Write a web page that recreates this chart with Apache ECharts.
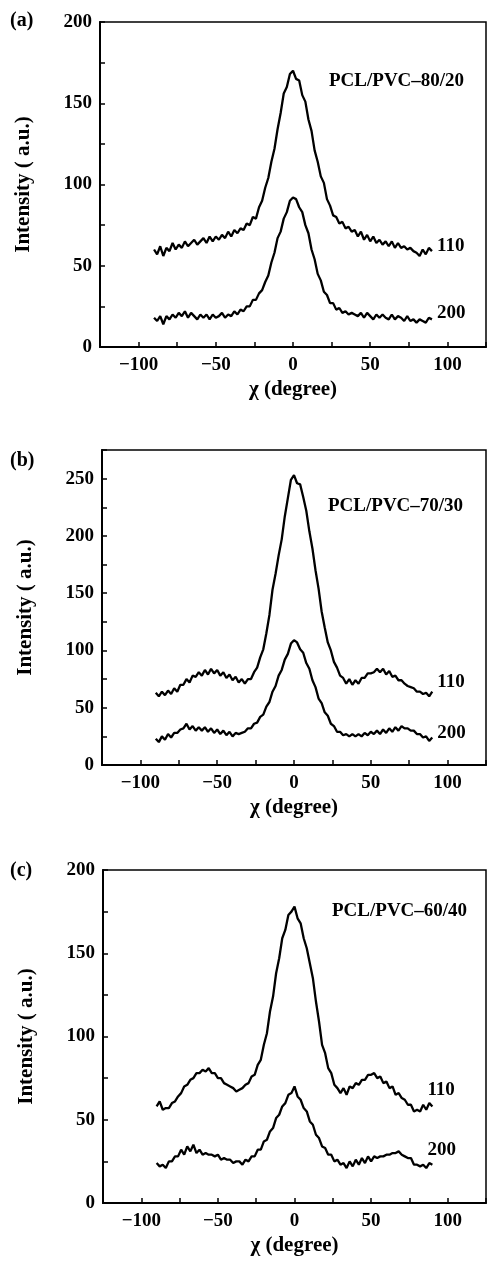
<!DOCTYPE html>
<html lang="en">
  <head>
    <meta charset="UTF-8" />
    <title>PCL/PVC azimuthal scans</title>
    <script src="https://cdn.jsdelivr.net/npm/echarts@6.0.0/dist/echarts.min.js"></script>
    <style>
      body { margin: 0; background: #fff; }
    </style>
  </head>
  <body>
    <div id="main" style="width: 489px; height: 1268px"></div>
    <script type="text/javascript">
      // azimuthal angle, degrees
      const chi = [-90, -88, -86, -84, -82, -80, -78, -76, -74, -72, -70, -68, -66, -64, -62, -60,
        -58, -56, -54, -52, -50, -48, -46, -44, -42, -40, -38, -36, -34, -32, -30, -28, -26, -24,
        -22, -20, -18, -16, -14, -12, -10, -8, -6, -4, -2, 0, 2, 4, 6, 8, 10, 12, 14, 16, 18, 20,
        22, 24, 26, 28, 30, 32, 34, 36, 38, 40, 42, 44, 46, 48, 50, 52, 54, 56, 58, 60, 62, 64,
        66, 68, 70, 72, 74, 76, 78, 80, 82, 84, 86, 88, 90];

      // (a) PCL/PVC-80/20
      const a110 = [60, 57, 62, 56, 61, 59, 64, 60, 63, 61, 65, 62, 64, 66, 63, 65, 67, 64, 68,
        65, 68, 66, 69, 67, 71, 68, 72, 70, 73, 72, 76, 75, 80, 79, 86, 90, 98, 104, 114, 122,
        134, 144, 156, 160, 168, 170, 165, 164, 155, 151, 140, 133, 121, 114, 105, 101, 91, 87,
        81, 80, 76, 77, 73, 74, 71, 72, 68, 71, 66, 69, 65, 68, 64, 66, 63, 65, 62, 65, 61, 64,
        61, 62, 60, 61, 59, 58, 56, 60, 57, 61, 59];
      const a200 = [18, 16, 19, 14, 19, 17, 20, 18, 21, 19, 22, 18, 21, 19, 17, 20, 18, 20, 17,
        20, 18, 19, 21, 18, 20, 19, 22, 20, 23, 22, 25, 25, 29, 29, 33, 35, 40, 44, 52, 58, 67,
        71, 79, 83, 90, 92, 91, 86, 83, 75, 70, 60, 54, 45, 41, 34, 32, 27, 27, 23, 24, 21, 22,
        20, 21, 20, 19, 21, 18, 21, 19, 17, 20, 18, 20, 18, 17, 20, 17, 19, 18, 16, 19, 16, 17,
        15, 17, 16, 15, 18, 17];

      // (b) PCL/PVC-70/30
      const b110 = [63, 60, 64, 61, 65, 62, 67, 64, 70, 70, 75, 72, 78, 77, 81, 78, 83, 79, 84,
        80, 83, 78, 81, 76, 79, 74, 77, 72, 75, 71, 75, 75, 81, 85, 94, 101, 115, 131, 153, 167,
        183, 197, 217, 233, 249, 253, 246, 245, 234, 222, 204, 189, 170, 154, 134, 120, 107, 100,
        90, 85, 78, 76, 71, 75, 70, 74, 71, 76, 76, 80, 80, 81, 84, 81, 84, 79, 82, 77, 78, 74,
        74, 71, 69, 68, 67, 64, 64, 62, 63, 60, 64];
      const b200 = [23, 20, 25, 22, 27, 24, 28, 28, 31, 32, 36, 31, 34, 30, 33, 30, 33, 29, 32,
        28, 31, 27, 30, 26, 29, 25, 28, 27, 28, 29, 32, 32, 36, 37, 42, 44, 51, 55, 64, 69, 78,
        83, 92, 97, 106, 109, 107, 101, 98, 89, 84, 74, 68, 58, 54, 46, 43, 36, 34, 29, 29, 26,
        27, 25, 27, 25, 27, 25, 28, 26, 29, 27, 30, 27, 31, 28, 32, 29, 33, 30, 34, 32, 32, 30,
        30, 27, 27, 24, 25, 21, 24];

      // (c) PCL/PVC-60/40
      const c110 = [58, 61, 56, 57, 57, 60, 61, 64, 66, 70, 71, 74, 75, 78, 78, 80, 79, 81, 78,
        78, 75, 75, 72, 71, 70, 69, 67, 68, 69, 71, 72, 76, 77, 83, 86, 95, 102, 115, 124, 138,
        147, 159, 164, 173, 175, 178, 171, 168, 159, 153, 144, 135, 121, 109, 95, 90, 81, 78,
        71, 69, 66, 69, 65, 70, 69, 72, 71, 74, 74, 77, 77, 78, 75, 76, 72, 73, 69, 70, 65, 66,
        63, 62, 59, 59, 55, 56, 55, 59, 56, 60, 58];
      const c200 = [24, 22, 23, 21, 25, 25, 28, 28, 32, 29, 34, 31, 35, 30, 32, 29, 30, 29, 29,
        28, 29, 26, 27, 26, 26, 24, 25, 25, 23, 26, 25, 28, 28, 32, 32, 37, 38, 43, 45, 51, 53,
        58, 60, 65, 66, 70, 64, 62, 57, 55, 49, 47, 41, 39, 34, 33, 29, 29, 25, 26, 23, 24, 21,
        25, 22, 26, 23, 27, 24, 28, 25, 28, 27, 28, 28, 29, 29, 30, 30, 31, 29, 28, 27, 27, 23,
        23, 22, 23, 21, 24, 23];

      const panelLetters = ["(a)", "(b)", "(c)"];
      const sampleNames = ["PCL/PVC\u201380/20", "PCL/PVC\u201370/30", "PCL/PVC\u201360/40"];
      const yMax = [200, 275, 200];
      const reflections = ["110", "200"];

      const font = '"Liberation Serif", "Times New Roman", serif';
      const grids = [
        { left: 100, top: 22, width: 388, height: 325 },
        { left: 102, top: 450, width: 386, height: 315 },
        { left: 103, top: 870, width: 385, height: 333 },
      ];

      function tickText(v) {
        if (v % 50 !== 0) return "";
        return String(v).replace("-", "\u2212");
      }

      let xAxes = [], yAxes = [];
      grids.forEach((g, i) => {
        xAxes.push({
          type: "value", gridIndex: i, min: -125, max: 125, interval: 25,
          name: "\u03c7 (degree)", nameLocation: "middle", nameGap: 32,
          nameTextStyle: { fontFamily: font, fontWeight: "bold", fontSize: 21, color: "#000" },
          axisLine: { onZero: false, lineStyle: { color: "#000", width: 2 } },
          axisTick: { inside: true, length: 5, lineStyle: { color: "#000", width: 1.5 } },
          axisLabel: { interval: 0, margin: 9, formatter: tickText, color: "#000",
            fontFamily: font, fontWeight: "bold", fontSize: 19 },
          splitLine: { show: false },
        });
        yAxes.push({
          type: "value", gridIndex: i, min: 0, max: yMax[i], interval: 25,
          name: "Intensity ( a.u.)", nameLocation: "middle", nameGap: 66,
          nameTextStyle: { fontFamily: font, fontWeight: "bold", fontSize: 21, color: "#000" },
          axisLine: { show: true, onZero: false, lineStyle: { color: "#000", width: 2 } },
          axisTick: { show: true, inside: true, length: 5, lineStyle: { color: "#000", width: 1.5 } },
          axisLabel: { interval: 0, margin: 8, formatter: tickText, color: "#000",
            fontFamily: font, fontWeight: "bold", fontSize: 19 },
          splitLine: { show: false },
        });
      });

      const curves = [
        [a110, a200], [b110, b200], [c110, c200],
      ];
      const labelOffsets = [
        [[0, -5], [0, -6]],
        [[0, -10], [0, -4]],
        [[-10, -16], [-10, -15]],
      ];

      let series = [];
      curves.forEach((pair, i) => {
        pair.forEach((vals, j) => {
          series.push({
            type: "line", xAxisIndex: i, yAxisIndex: i,
            data: chi.map((x, k) => [x, vals[k]]),
            showSymbol: false, symbol: "none",
            lineStyle: { color: "#000", width: 2.3 },
            endLabel: { show: true, formatter: reflections[j], distance: 5,
              offset: labelOffsets[i][j], color: "#000",
              fontFamily: font, fontWeight: "bold", fontSize: 19 },
          });
        });
      });

      const textTops = [[11, 72], [451, 497], [861, 902]];
      const nameLefts = [329, 328, 332];
      let graphic = [];
      grids.forEach((g, i) => {
        graphic.push({ type: "text", left: 10, top: textTops[i][0],
          style: { text: panelLetters[i], fill: "#000", font: "bold 20px " + font } });
        graphic.push({ type: "text", left: nameLefts[i], top: textTops[i][1],
          style: { text: sampleNames[i], fill: "#000", font: "bold 19px " + font } });
      });

      let myChart = echarts.init(document.getElementById("main"));
      myChart.setOption({
        animation: false,
        grid: grids.map((g) => Object.assign({ show: true, borderColor: "#000", borderWidth: 1.5,
          backgroundColor: "transparent" }, g)),
        xAxis: xAxes,
        yAxis: yAxes,
        series: series,
        graphic: graphic,
      });
    </script>
  </body>
</html>
